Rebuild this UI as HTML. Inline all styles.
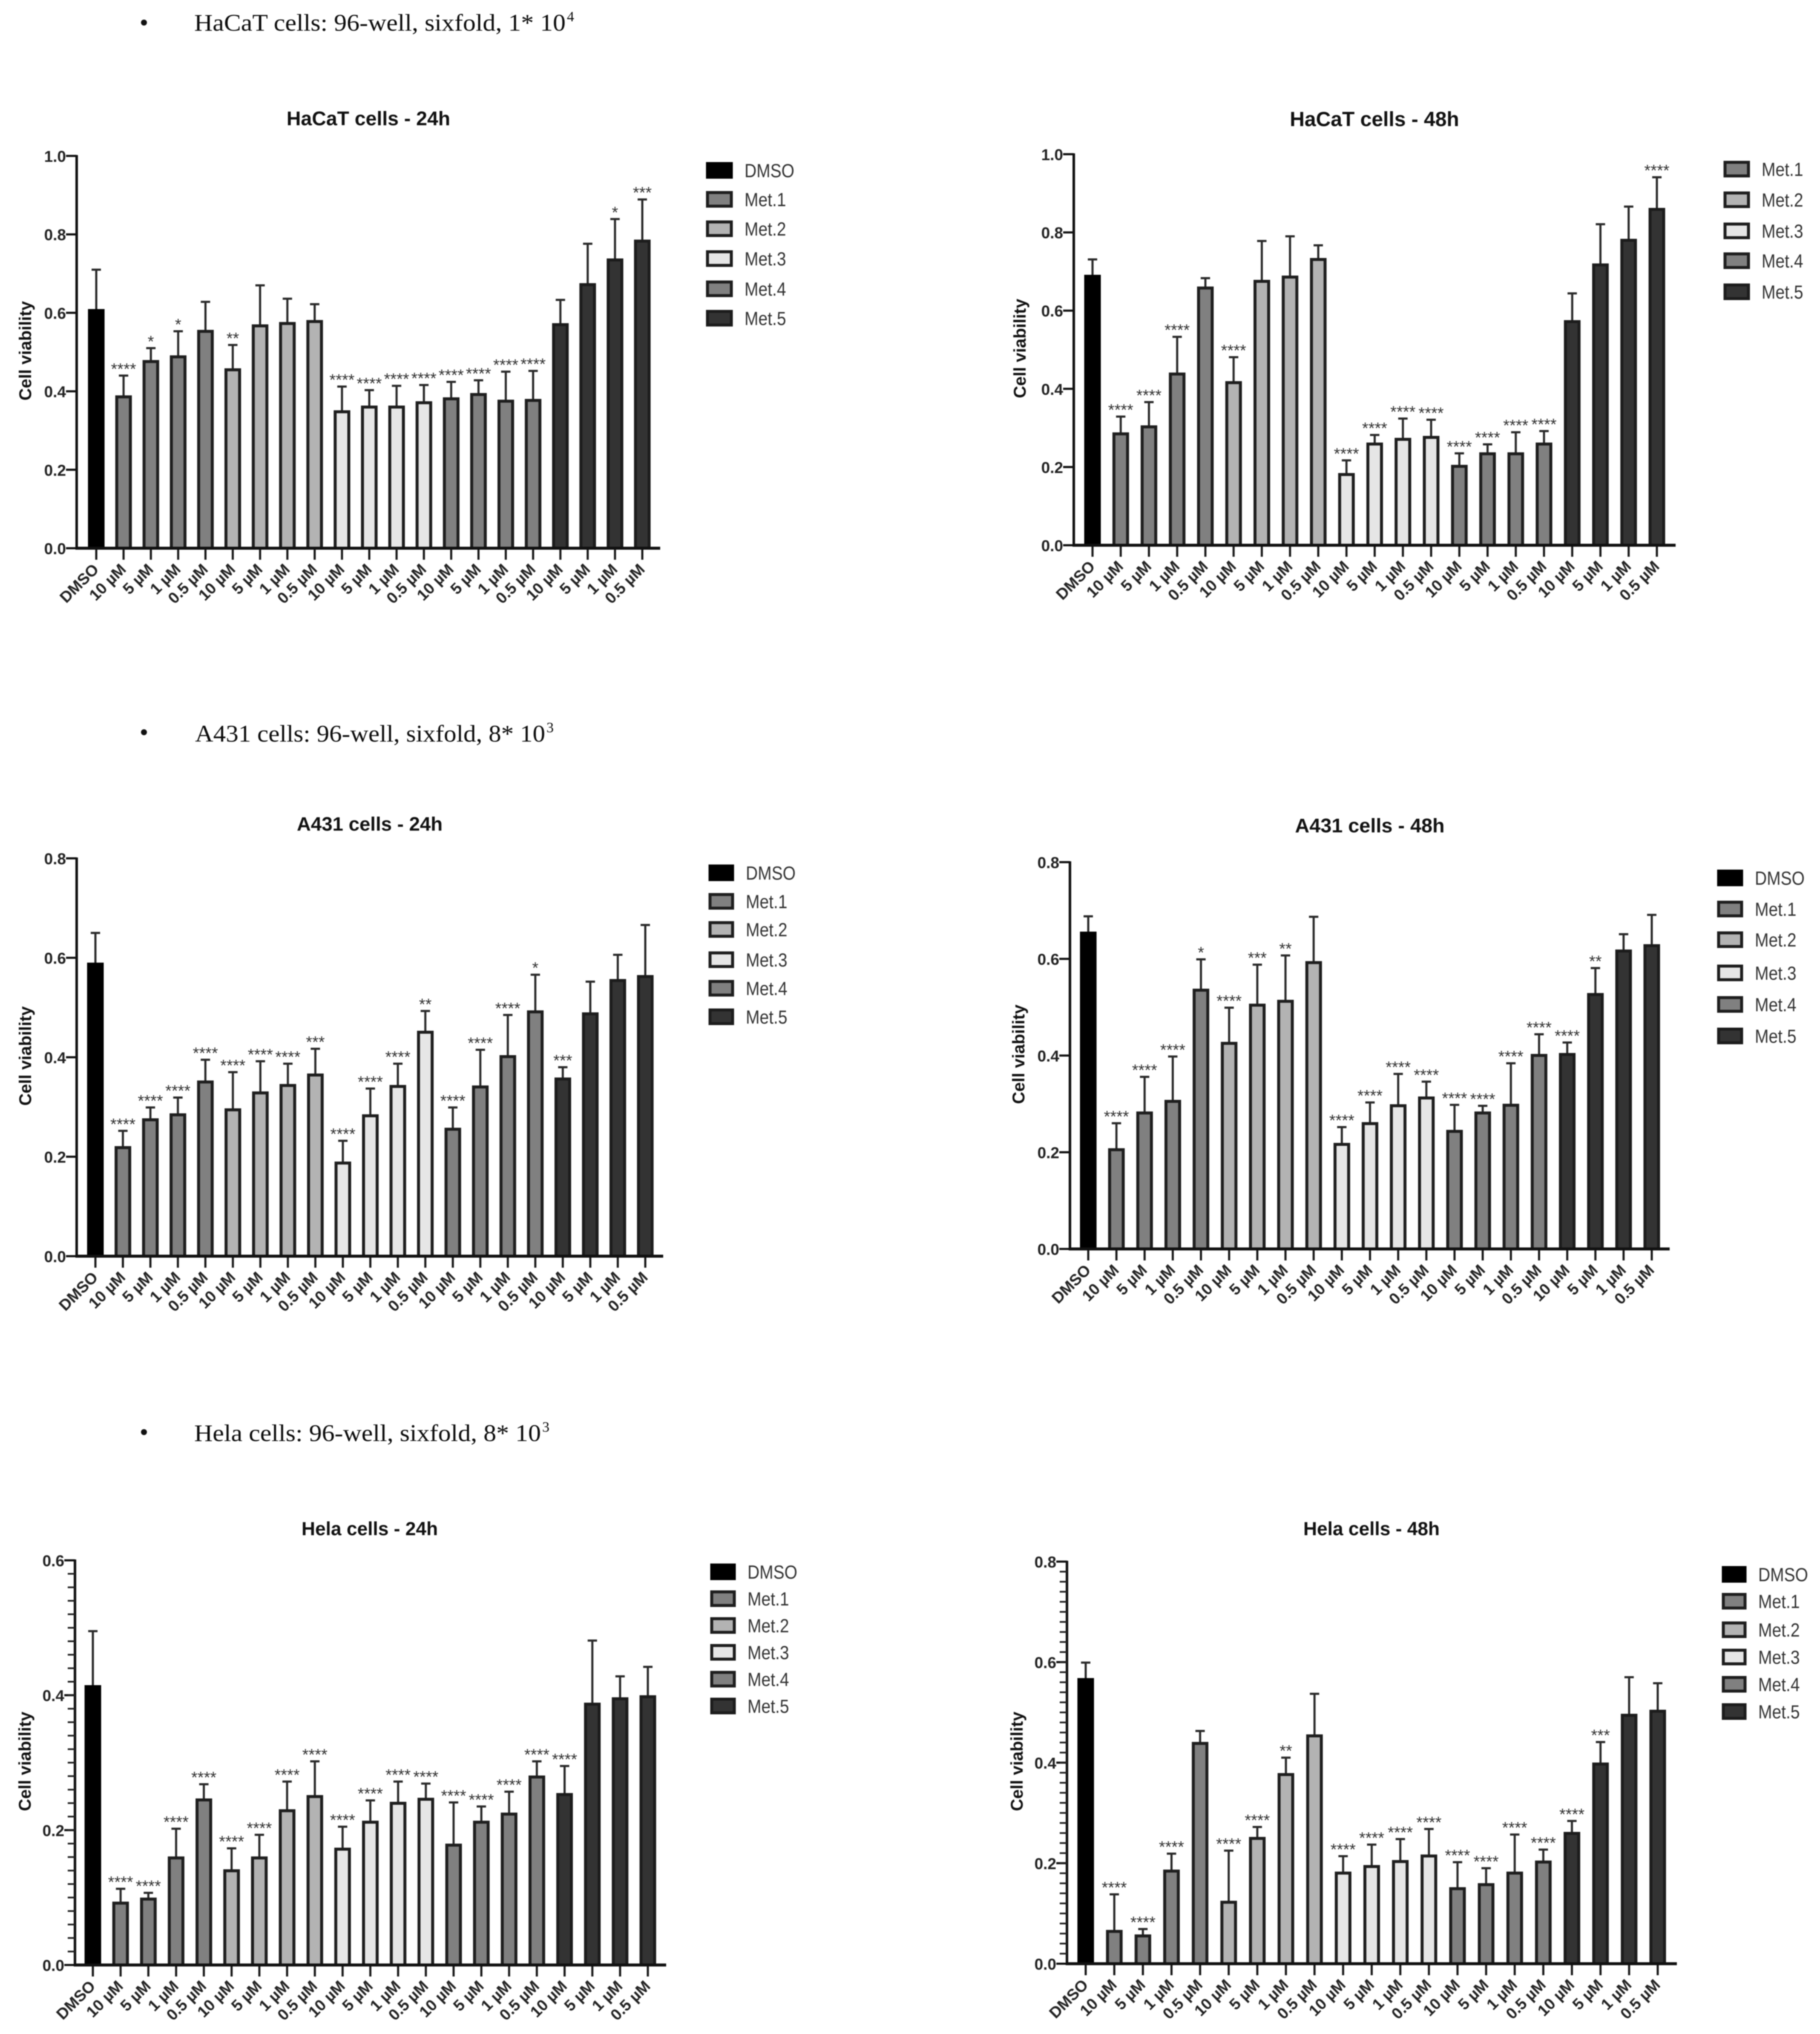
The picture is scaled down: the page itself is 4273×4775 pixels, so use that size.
<!DOCTYPE html>
<html lang="en">
<head>
<meta charset="utf-8">
<title>Cell viability charts</title>
<style>
html,body{margin:0;padding:0;background:#fff;width:4273px;height:4775px;overflow:hidden}
#stage{display:block;filter:blur(1.2px)}
text{font-family:"Liberation Sans",Arial,sans-serif}
.serif{font-family:"Liberation Serif","Times New Roman",serif;fill:#0c0c0c}
</style>
</head>
<body>
<svg id="stage" xmlns="http://www.w3.org/2000/svg" width="4273" height="4775" viewBox="0 0 4273 4775">
  <rect x="0" y="0" width="4273" height="4775" fill="#fff"/>

  <g>
    <circle cx="338" cy="53" r="7" fill="#111"/>
    <text class="serif" x="456" y="72" font-size="56" textLength="872" lengthAdjust="spacingAndGlyphs">HaCaT cells: 96-well, sixfold, 1* 10</text>
    <text class="serif" x="1331" y="50" font-size="34">4</text>
  </g>
  <g>
    <circle cx="338" cy="1719" r="7" fill="#111"/>
    <text class="serif" x="458" y="1741" font-size="56" textLength="822" lengthAdjust="spacingAndGlyphs">A431 cells: 96-well, sixfold, 8* 10</text>
    <text class="serif" x="1283" y="1719" font-size="34">3</text>
  </g>
  <g>
    <circle cx="338" cy="3362" r="7" fill="#111"/>
    <text class="serif" x="456" y="3383" font-size="56" textLength="814" lengthAdjust="spacingAndGlyphs">Hela cells: 96-well, sixfold, 8* 10</text>
    <text class="serif" x="1273" y="3361" font-size="34">3</text>
  </g>
</svg>

<script>
// Shared categories
const doseLabels = ['DMSO','10 µM','5 µM','1 µM','0.5 µM','10 µM','5 µM','1 µM','0.5 µM','10 µM','5 µM','1 µM','0.5 µM','10 µM','5 µM','1 µM','0.5 µM','10 µM','5 µM','1 µM','0.5 µM'];
const barGroups = ['DMSO','Met.1','Met.1','Met.1','Met.1','Met.2','Met.2','Met.2','Met.2','Met.3','Met.3','Met.3','Met.3','Met.4','Met.4','Met.4','Met.4','Met.5','Met.5','Met.5','Met.5'];
const allLegend = ['DMSO','Met.1','Met.2','Met.3','Met.4','Met.5'];
const noDmsoLegend = ['Met.1','Met.2','Met.3','Met.4','Met.5'];

// HaCaT 24h
const hacat24Means = [.608,.388,.478,.49,.555,.457,.569,.575,.58,.35,.362,.362,.373,.383,.394,.377,.379,.572,.674,.737,.785];
const hacat24Upper = [.71,.44,.51,.553,.628,.518,.67,.636,.622,.412,.403,.414,.416,.424,.428,.45,.452,.633,.776,.839,.889];
const hacat24Sig = ['','****','*','*','','**','','','','****','****','****','****','****','****','****','****','','','*','***'];
const hacat24Ticks = ['0.0','0.2','0.4','0.6','0.8','1.0'];

// HaCaT 48h
const hacat48Means = [.69,.287,.305,.44,.66,.418,.677,.688,.733,.183,.261,.273,.278,.204,.236,.236,.261,.574,.719,.782,.861];
const hacat48Upper = [.731,.329,.366,.533,.683,.481,.778,.79,.767,.217,.282,.324,.321,.235,.258,.289,.292,.644,.821,.866,.941];
const hacat48Sig = ['','****','****','****','','****','','','','****','****','****','****','****','****','****','****','','','','****'];
const hacat48Ticks = ['0.0','0.2','0.4','0.6','0.8','1.0'];

// A431 24h
const a43124Means = [.589,.22,.276,.286,.352,.296,.33,.345,.366,.189,.284,.343,.452,.257,.342,.403,.493,.358,.489,.556,.564];
const a43124Upper = [.65,.252,.299,.319,.395,.37,.392,.387,.417,.232,.337,.387,.493,.299,.415,.485,.566,.38,.552,.606,.666];
const a43124Sig = ['','****','****','****','****','****','****','****','***','****','****','****','**','****','****','****','*','***','','',''];
const a43124Ticks = ['0.0','0.2','0.4','0.6','0.8'];

// A431 48h
const a43148Means = [.655,.207,.283,.307,.537,.427,.506,.514,.594,.218,.261,.298,.314,.245,.283,.299,.402,.404,.528,.618,.629];
const a43148Upper = [.688,.26,.356,.398,.599,.499,.588,.607,.687,.252,.303,.362,.346,.298,.296,.384,.444,.427,.581,.651,.691];
const a43148Sig = ['','****','****','****','*','****','***','**','','****','****','****','****','****','****','****','****','****','**','',''];
const a43148Ticks = ['0.0','0.2','0.4','0.6','0.8'];

// Hela 24h
const hela24Means = [.414,.093,.099,.16,.246,.141,.16,.23,.251,.173,.213,.241,.247,.179,.213,.225,.28,.254,.388,.396,.399];
const hela24Upper = [.495,.113,.107,.202,.268,.173,.193,.272,.302,.205,.244,.272,.269,.241,.235,.257,.302,.295,.481,.428,.442];
const hela24Sig = ['','****','****','****','****','****','****','****','****','****','****','****','****','****','****','****','****','****','','',''];
const hela24Ticks = ['0.0','0.2','0.4','0.6'];

// Hela 48h
const hela48Means = [.567,.066,.057,.186,.44,.124,.251,.378,.455,.182,.195,.205,.216,.151,.159,.182,.204,.261,.399,.496,.504];
const hela48Upper = [.599,.138,.069,.219,.463,.225,.272,.41,.537,.214,.237,.248,.268,.202,.19,.257,.227,.284,.441,.57,.558];
const hela48Sig = ['','****','****','****','','****','****','**','','****','****','****','****','****','****','****','****','****','***','',''];
const hela48Ticks = ['0.0','0.2','0.4','0.6','0.8'];

// Styling per series
const fills = {'DMSO':'#000000','Met.1':'#808080','Met.2':'#b3b3b3','Met.3':'#e6e6e6','Met.4':'#808080','Met.5':'#333333'};
const strokes = {'DMSO':'#000000','Met.1':'#1e1e1e','Met.2':'#1e1e1e','Met.3':'#1e1e1e','Met.4':'#1e1e1e','Met.5':'#1c1c1c'};

const SVGNS = 'http://www.w3.org/2000/svg';
const stage = document.getElementById('stage');

function make(parent, tag, attrs, txt){
  const el = document.createElementNS(SVGNS, tag);
  for (const k in attrs) el.setAttribute(k, attrs[k]);
  if (txt !== undefined) el.textContent = txt;
  parent.appendChild(el);
  return el;
}

function drawChart(c){
  const plotX = i => c.firstX + i * (c.lastX - c.firstX) / (c.means.length - 1);
  const yMax = parseFloat(c.ticks[c.ticks.length - 1]);
  const plotY = v => c.base - (v / yMax) * (c.base - c.top);

  const g = make(stage, 'g', {});
  
  

  const title = make(g, 'text', {x:c.titleX, y:c.titleY, 'font-size':c.titleSize, 'font-weight':'bold', 'text-anchor':'middle', fill:'#111'}, c.title);
  
  

  const yTitle = make(g, 'text', {transform:'translate(' + (c.axisX - c.yTitleGap) + ',' + ((c.top + c.base) / 2 - 3) + ') rotate(-90)', 'font-size':40, 'font-weight':'bold', 'text-anchor':'middle', fill:'#111'}, 'Cell viability');
  
  

  // bars and error bars
  c.means.forEach((m, i) => {
    const cx = plotX(i);
    const group = barGroups[i];
    const yTop = plotY(m);
    const yErr = plotY(c.upper[i]);

    const stem = make(g, 'line', {x1:cx, x2:cx, y1:yTop, y2:yErr, stroke:'#2a2a2a', 'stroke-width':5});
    
    

    const cap = make(g, 'line', {x1:cx - 11, x2:cx + 11, y1:yErr, y2:yErr, stroke:'#2a2a2a', 'stroke-width':5});
    
    

    const bar = make(g, 'rect', {x:cx - 16, y:yTop + 2, width:32, height:Math.max(0, c.base - yTop - 2), fill:fills[group], stroke:strokes[group], 'stroke-width':7});
    
    

    if (c.sig[i]) {
      const star = make(g, 'text', {x:cx, y:yErr - 3, 'font-size':38, 'text-anchor':'middle', fill:'#333'}, c.sig[i]);
      
      
    }

    const tick = make(g, 'line', {x1:cx, x2:cx, y1:c.base, y2:c.base + 27, stroke:'#1a1a1a', 'stroke-width':5});
    
    

    const lab = make(g, 'text', {transform:'translate(' + (cx + 8) + ',' + (c.base + 52) + ') rotate(-45)', 'font-size':37, 'font-weight':'bold', 'text-anchor':'end', fill:'#222'}, doseLabels[i]);
    
    
  });

  // axes
  const xAxis = make(g, 'line', {x1:c.axisX - 3, x2:c.axisEnd, y1:c.base, y2:c.base, stroke:'#111', 'stroke-width':7});
  
  

  const yAxis = make(g, 'line', {x1:c.axisX, x2:c.axisX, y1:c.top - 2, y2:c.base + 3, stroke:'#111', 'stroke-width':6});
  
  

  c.ticks.forEach(t => {
    const v = parseFloat(t);
    const ty = plotY(v);
    const tk = make(g, 'line', {x1:c.axisX - 25, x2:c.axisX, y1:ty, y2:ty, stroke:'#111', 'stroke-width':5});
    
    
    const lb = make(g, 'text', {x:c.axisX - 25, y:ty + 14, 'font-size':37, 'font-weight':'bold', 'text-anchor':'end', fill:'#222'}, t);
    
    
  });

  if (c.minorStep) {
    const steps = Math.round(yMax / c.minorStep);
    for (let s = 1; s < steps; s++) {
      const mv = s * c.minorStep;
      const my = plotY(mv);
      const mt = make(g, 'line', {x1:c.axisX - 17, x2:c.axisX, y1:my, y2:my, stroke:'#222', 'stroke-width':4});
      
      
    }
  }

  // legend
  const legendGroup = make(g, 'g', {});
  
  
  c.legend.forEach((name, i) => {
    const ly = c.legendYs[i];
    const sw = make(legendGroup, 'rect', {x:c.legendX + 3, y:ly - 16, width:c.legendW - 6, height:32, fill:fills[name], stroke:strokes[name], 'stroke-width':7});
    
    
    const tx = make(legendGroup, 'text', {transform:'translate(' + (c.legendX + c.legendW + 28) + ',' + (ly + 16) + ') scale(1,1.15)', 'font-size':39, fill:'#333'}, name);
    
    
  });
}

const chartList = [
  {id:'hacat-24h', title:'HaCaT cells - 24h', titleX:865, titleY:294, titleSize:46.4, yTitleGap:107,
   means:hacat24Means, upper:hacat24Upper, sig:hacat24Sig, ticks:hacat24Ticks, minorStep:0,
   axisX:180, top:366, base:1287, firstX:226, lastX:1508, axisEnd:1550,
   legend:allLegend, legendX:1658, legendW:62, legendYs:[400,468,537,607,678,747]},
  {id:'hacat-48h', title:'HaCaT cells - 48h', titleX:3227, titleY:296, titleSize:48, yTitleGap:113,
   means:hacat48Means, upper:hacat48Upper, sig:hacat48Sig, ticks:hacat48Ticks, minorStep:0,
   axisX:2521, top:362, base:1280, firstX:2565, lastX:3890, axisEnd:3934,
   legend:noDmsoLegend, legendX:4047, legendW:61, legendYs:[397,469,542,612,685]},
  {id:'a431-24h', title:'A431 cells - 24h', titleX:868, titleY:1950, titleSize:45.6, yTitleGap:107,
   means:a43124Means, upper:a43124Upper, sig:a43124Sig, ticks:a43124Ticks, minorStep:0,
   axisX:180, top:2015, base:2949, firstX:224, lastX:1515, axisEnd:1557,
   legend:allLegend, legendX:1664, legendW:59, legendYs:[2049,2116,2182,2253,2320,2387]},
  {id:'a431-48h', title:'A431 cells - 48h', titleX:3216, titleY:1954, titleSize:46.8, yTitleGap:107,
   means:a43148Means, upper:a43148Upper, sig:a43148Sig, ticks:a43148Ticks, minorStep:0,
   axisX:2512, top:2024, base:2932, firstX:2555, lastX:3878, axisEnd:3920,
   legend:allLegend, legendX:4032, legendW:60, legendYs:[2061,2134,2206,2284,2358,2432]},
  {id:'hela-24h', title:'Hela cells - 24h', titleX:868, titleY:3604, titleSize:44.3, yTitleGap:104,
   means:hela24Means, upper:hela24Upper, sig:hela24Sig, ticks:hela24Ticks, minorStep:0.02,
   axisX:176, top:3663, base:4613, firstX:218, lastX:1521, axisEnd:1564,
   legend:allLegend, legendX:1668, legendW:59, legendYs:[3690,3753,3816,3879,3942,4005]},
  {id:'hela-48h', title:'Hela cells - 48h', titleX:3220, titleY:3604, titleSize:44.3, yTitleGap:104,
   means:hela48Means, upper:hela48Upper, sig:hela48Sig, ticks:hela48Ticks, minorStep:0.02,
   axisX:2505, top:3666, base:4610, firstX:2549, lastX:3892, axisEnd:3937,
   legend:allLegend, legendX:4043, legendW:57, legendYs:[3696,3759,3826,3890,3954,4018]}
];

chartList.forEach(drawChart);
</script>
</body>
</html>
